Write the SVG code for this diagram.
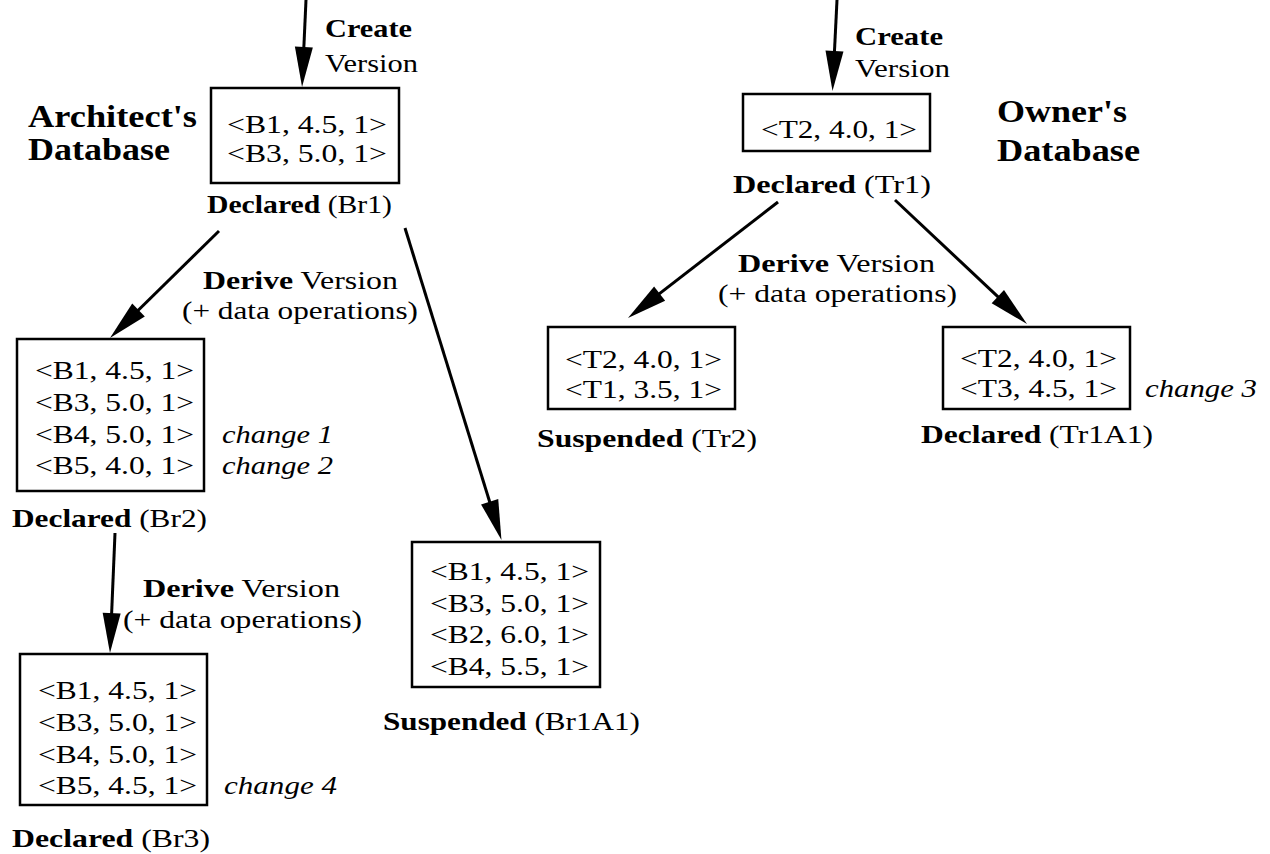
<svg xmlns="http://www.w3.org/2000/svg" width="1270" height="854" viewBox="0 0 1270 854">
<style>
text{font-family:"Liberation Serif","Times New Roman",serif;font-size:25px;fill:#000}
.b{font-weight:bold}
.h{font-weight:bold;font-size:32px}
.i{font-style:italic}
.box{fill:#fff;stroke:#000;stroke-width:2.5}
.c line{stroke:#000;stroke-width:3;marker-end:url(#ah)}
</style>
<defs>
<marker id="ah" markerUnits="userSpaceOnUse" markerWidth="40" markerHeight="18" refX="30" refY="9" orient="auto" overflow="visible">
<path d="M0,0 L40,9 L0,18 z" fill="#000"/>
</marker>
</defs>
<g class="c" id="connectors">
<line x1="306" y1="0" x2="302.5" y2="77"/>
<line x1="837" y1="0" x2="833" y2="81"/>
<line x1="219" y1="231" x2="117.1" y2="331"/>
<line x1="405" y1="228" x2="498.5" y2="530.4"/>
<line x1="115" y1="533" x2="110.4" y2="643"/>
<line x1="778" y1="202" x2="635.9" y2="311.9"/>
<line x1="895" y1="200" x2="1019.7" y2="317.2"/>
</g>
<g id="labels-left">
<text x="325" y="37" textLength="87" lengthAdjust="spacingAndGlyphs" class="b">Create</text>
<text x="325" y="72" textLength="93" lengthAdjust="spacingAndGlyphs">Version</text>
<text x="28" y="127" textLength="169" lengthAdjust="spacingAndGlyphs" class="h">Architect's</text>
<text x="28" y="160" textLength="142" lengthAdjust="spacingAndGlyphs" class="h">Database</text>
<text x="203" y="289" textLength="195" lengthAdjust="spacingAndGlyphs"><tspan class="b">Derive</tspan> Version</text>
<text x="182" y="319" textLength="236" lengthAdjust="spacingAndGlyphs">(+ data operations)</text>
<text x="143" y="597" textLength="197" lengthAdjust="spacingAndGlyphs"><tspan class="b">Derive</tspan> Version</text>
<text x="123" y="628" textLength="239" lengthAdjust="spacingAndGlyphs">(+ data operations)</text>
</g>
<g id="Br1">
<rect class="box" x="211" y="88" width="188" height="95"/>
<text x="227" y="133" textLength="160" lengthAdjust="spacingAndGlyphs">&lt;B1, 4.5, 1&gt;</text>
<text x="227" y="162" textLength="160" lengthAdjust="spacingAndGlyphs">&lt;B3, 5.0, 1&gt;</text>
<text x="207" y="213" textLength="185" lengthAdjust="spacingAndGlyphs"><tspan class="b">Declared</tspan> (Br1)</text>
</g>
<g id="Br2">
<rect class="box" x="17" y="339" width="187" height="152"/>
<text x="35" y="379" textLength="159" lengthAdjust="spacingAndGlyphs">&lt;B1, 4.5, 1&gt;</text>
<text x="35" y="411" textLength="159" lengthAdjust="spacingAndGlyphs">&lt;B3, 5.0, 1&gt;</text>
<text x="35" y="443" textLength="159" lengthAdjust="spacingAndGlyphs">&lt;B4, 5.0, 1&gt;</text>
<text x="35" y="474" textLength="159" lengthAdjust="spacingAndGlyphs">&lt;B5, 4.0, 1&gt;</text>
<text x="222" y="443" textLength="111" lengthAdjust="spacingAndGlyphs" class="i">change 1</text>
<text x="222" y="474" textLength="111" lengthAdjust="spacingAndGlyphs" class="i">change 2</text>
<text x="12" y="527" textLength="195" lengthAdjust="spacingAndGlyphs"><tspan class="b">Declared</tspan> (Br2)</text>
</g>
<g id="Br3">
<rect class="box" x="20" y="654" width="187" height="151"/>
<text x="38" y="699" textLength="159" lengthAdjust="spacingAndGlyphs">&lt;B1, 4.5, 1&gt;</text>
<text x="38" y="731" textLength="159" lengthAdjust="spacingAndGlyphs">&lt;B3, 5.0, 1&gt;</text>
<text x="38" y="763" textLength="159" lengthAdjust="spacingAndGlyphs">&lt;B4, 5.0, 1&gt;</text>
<text x="38" y="794" textLength="159" lengthAdjust="spacingAndGlyphs">&lt;B5, 4.5, 1&gt;</text>
<text x="224" y="794" textLength="113" lengthAdjust="spacingAndGlyphs" class="i">change 4</text>
<text x="12" y="847" textLength="198" lengthAdjust="spacingAndGlyphs"><tspan class="b">Declared</tspan> (Br3)</text>
</g>
<g id="Br1A1">
<rect class="box" x="412" y="542" width="188" height="145"/>
<text x="430" y="580" textLength="159" lengthAdjust="spacingAndGlyphs">&lt;B1, 4.5, 1&gt;</text>
<text x="430" y="612" textLength="159" lengthAdjust="spacingAndGlyphs">&lt;B3, 5.0, 1&gt;</text>
<text x="430" y="643" textLength="159" lengthAdjust="spacingAndGlyphs">&lt;B2, 6.0, 1&gt;</text>
<text x="430" y="675" textLength="159" lengthAdjust="spacingAndGlyphs">&lt;B4, 5.5, 1&gt;</text>
<text x="383" y="730" textLength="257" lengthAdjust="spacingAndGlyphs"><tspan class="b">Suspended</tspan> (Br1A1)</text>
</g>
<g id="labels-right">
<text x="855" y="45" textLength="88" lengthAdjust="spacingAndGlyphs" class="b">Create</text>
<text x="855" y="77" textLength="95" lengthAdjust="spacingAndGlyphs">Version</text>
<text x="997" y="122" textLength="130" lengthAdjust="spacingAndGlyphs" class="h">Owner's</text>
<text x="997" y="161" textLength="143" lengthAdjust="spacingAndGlyphs" class="h">Database</text>
<text x="738" y="272" textLength="197" lengthAdjust="spacingAndGlyphs"><tspan class="b">Derive</tspan> Version</text>
<text x="718" y="302" textLength="239" lengthAdjust="spacingAndGlyphs">(+ data operations)</text>
</g>
<g id="Tr1">
<rect class="box" x="743" y="94" width="187" height="57"/>
<text x="761" y="138" textLength="156" lengthAdjust="spacingAndGlyphs">&lt;T2, 4.0, 1&gt;</text>
<text x="733" y="193" textLength="198" lengthAdjust="spacingAndGlyphs"><tspan class="b">Declared</tspan> (Tr1)</text>
</g>
<g id="Tr2">
<rect class="box" x="548" y="327" width="187" height="82"/>
<text x="565" y="368" textLength="157" lengthAdjust="spacingAndGlyphs">&lt;T2, 4.0, 1&gt;</text>
<text x="565" y="398" textLength="157" lengthAdjust="spacingAndGlyphs">&lt;T1, 3.5, 1&gt;</text>
<text x="537" y="447" textLength="220" lengthAdjust="spacingAndGlyphs"><tspan class="b">Suspended</tspan> (Tr2)</text>
</g>
<g id="Tr1A1">
<rect class="box" x="943" y="327" width="187" height="82"/>
<text x="960" y="367" textLength="157" lengthAdjust="spacingAndGlyphs">&lt;T2, 4.0, 1&gt;</text>
<text x="960" y="397" textLength="157" lengthAdjust="spacingAndGlyphs">&lt;T3, 4.5, 1&gt;</text>
<text x="1145" y="397" textLength="112" lengthAdjust="spacingAndGlyphs" class="i">change 3</text>
<text x="921" y="443" textLength="232" lengthAdjust="spacingAndGlyphs"><tspan class="b">Declared</tspan> (Tr1A1)</text>
</g>
</svg>
